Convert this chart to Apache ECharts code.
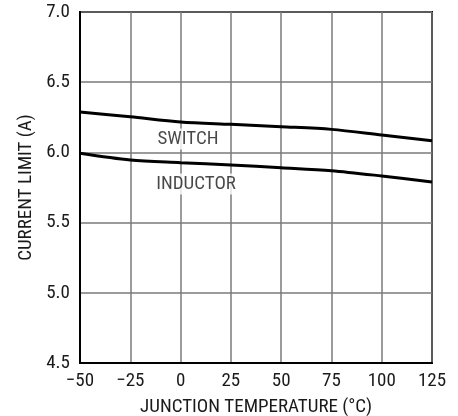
<!DOCTYPE html>
<html><head><meta charset="utf-8">
<script src="https://cdn.jsdelivr.net/npm/echarts@6/dist/echarts.min.js"></script>
<style>html,body{margin:0;padding:0;background:#fff}#c{width:458px;height:416px}</style>
</head><body><div id="c"></div>
<script>
const temps = [-50, -25, 0, 25, 50, 75, 100, 125];
const switchLimit = [6.288, 6.254, 6.217, 6.200, 6.183, 6.164, 6.124, 6.083];
const inductorLimit = [5.994, 5.946, 5.927, 5.910, 5.891, 5.870, 5.832, 5.789];
const curveNames = ['SWITCH', 'INDUCTOR'];
const curveLabelAt = [[3.7, 6.095], [7.7, 5.775]];
const xTitle = 'JUNCTION TEMPERATURE (°C)';
const yTitle = 'CURRENT LIMIT (A)';

const FONT = '"Roboto Condensed", "Liberation Sans", sans-serif';
const TXT = '#1a1a1a';
const chart = echarts.init(document.getElementById('c'), null, {renderer: 'canvas'});
const pair = (xs, ys) => xs.map((x, i) => [x, ys[i]]);
chart.setOption({
  animation: false,
  grid: {left: 80, right: 26, top: 12, bottom: 53, outerBoundsMode: 'none', containLabel: false,
         show: true, borderColor: '#000', borderWidth: 2, backgroundColor: 'transparent'},
  xAxis: {
    type: 'value', min: -50, max: 125, interval: 25,
    name: xTitle, nameLocation: 'middle', nameGap: 35,
    nameTextStyle: {fontFamily: FONT, fontSize: 19, color: TXT},
    axisLine: {show: true, onZero: false, lineStyle: {color: '#000', width: 2}},
    axisTick: {show: false},
    axisLabel: {fontFamily: FONT, fontSize: 19, color: TXT, margin: 9, formatter: v => String(v).replace('-', '\u2212')},
    splitLine: {show: true, lineStyle: {color: '#7a7a7a', width: 1.5}}
  },
  yAxis: {
    type: 'value', min: 4.5, max: 7.0, interval: 0.5,
    name: yTitle, nameLocation: 'middle', nameGap: 38, nameRotate: 90,
    nameTextStyle: {fontFamily: FONT, fontSize: 19, color: TXT},
    axisLine: {show: true, onZero: false, lineStyle: {color: '#000', width: 2}},
    axisTick: {show: false},
    axisLabel: {fontFamily: FONT, fontSize: 19, color: TXT, margin: 10, formatter: v => v.toFixed(1)},
    splitLine: {show: true, lineStyle: {color: '#7a7a7a', width: 1.5}}
  },
  series: [
    {type: 'line', data: pair(temps, switchLimit), symbol: 'none', smooth: 0.3, lineStyle: {color: '#000', width: 3}, z: 3},
    {type: 'line', data: pair(temps, inductorLimit), symbol: 'none', smooth: 0.3, lineStyle: {color: '#000', width: 3}, z: 3},
    {type: 'scatter', symbolSize: 0, z: 4,
     data: curveLabelAt.map((p, i) => ({value: p, name: curveNames[i]})),
     label: {show: true, position: 'inside', formatter: p => p.name, fontFamily: FONT, fontSize: 19, color: TXT, backgroundColor: '#fff', padding: [1, 3]}}
  ]
});
</script></body></html>
